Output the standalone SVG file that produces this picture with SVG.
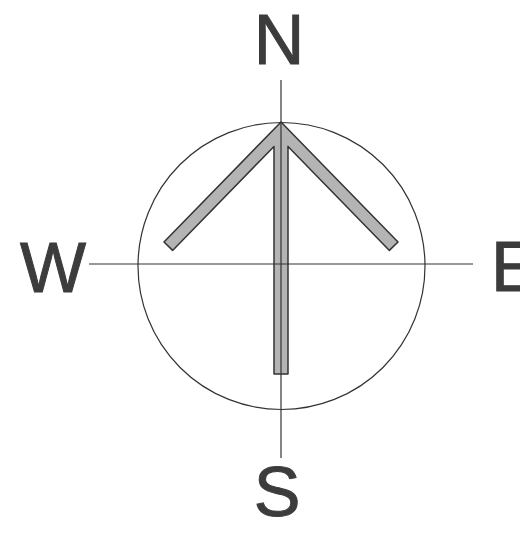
<svg xmlns="http://www.w3.org/2000/svg" width="520" height="536" viewBox="0 0 520 536">
<style>
.ln{stroke:#333;stroke-width:1.2;fill:none}
.lbl{font-family:"Liberation Sans",Arial,sans-serif;font-size:70px;fill:#3c3c3c;stroke:#3c3c3c;stroke-width:1}
</style>
<rect width="520" height="536" fill="#fff"/>
<g id="circle"><circle class="ln" cx="281.5" cy="266" r="143.5"/></g>
<g id="arrow"><polygon points="281,122 398,242 389.4,250.4 288,146.4 288,374 274,374 274,146.4 172.6,250.4 164,242" fill="#b4b4b4" stroke="#333" stroke-width="1.5" stroke-linejoin="round"/></g>
<g id="axes">
<line class="ln" x1="281" y1="80" x2="281" y2="458"/>
<line class="ln" x1="89" y1="264" x2="473" y2="264"/>
</g>
<g id="labels">
<text class="lbl" x="279" y="64" text-anchor="middle">N</text>
<text class="lbl" x="53" y="292" text-anchor="middle">W</text>
<text class="lbl" x="491" y="291">E</text>
<text class="lbl" x="277" y="516" text-anchor="middle">S</text>
</g>
</svg>
